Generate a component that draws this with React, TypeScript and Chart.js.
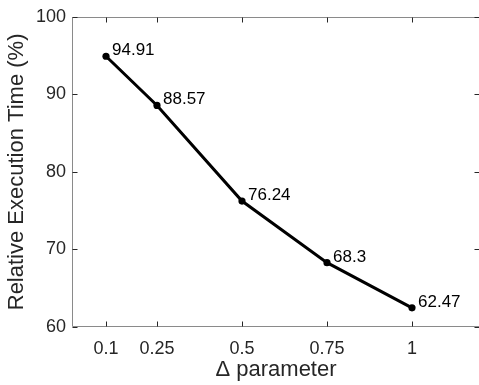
import React, { useEffect, useRef } from "react";
import { Chart, registerables } from "chart.js";

Chart.register(...registerables);

const deltaValues = [0.1, 0.25, 0.5, 0.75, 1];
const execTime = [94.91, 88.57, 76.24, 68.3, 62.47];
const xTickValues = [0.1, 0.25, 0.5, 0.75, 1];
const xTickLabels = ["0.1", "0.25", "0.5", "0.75", "1"];
const yTickValues = [60, 70, 80, 90, 100];
const yTickLabels = ["60", "70", "80", "90", "100"];
const xLabel = "\u0394 parameter";
const yLabel = "Relative Execution Time (%)";

const FONT = "'Liberation Sans', Arial, Helvetica, sans-serif";

const framePlugin = {
  id: "frame",
  beforeDatasetsDraw(chart: any) {
    const { ctx, chartArea } = chart;
    const { left, right, top, bottom } = chartArea;
    const xs = chart.scales.x;
    const ys = chart.scales.y;
    const L = Math.round(left) + 0.5;
    const R = Math.round(right) - 0.5;
    const T = Math.round(top) + 0.5;
    const B = Math.round(bottom) - 0.5;
    ctx.save();
    ctx.lineWidth = 1;
    ctx.strokeStyle = "#8a8a8a";
    ctx.beginPath();
    ctx.rect(L, T, R - L, B - T);
    ctx.stroke();
    ctx.strokeStyle = "#262626";
    const tl = 5;
    ctx.beginPath();
    xTickValues.forEach((v) => {
      const px = Math.round(xs.getPixelForValue(v)) + 0.5;
      ctx.moveTo(px, B);
      ctx.lineTo(px, B - tl);
      ctx.moveTo(px, T);
      ctx.lineTo(px, T + tl);
    });
    yTickValues.forEach((v) => {
      const py = Math.round(ys.getPixelForValue(v)) + 0.5;
      ctx.moveTo(L, py);
      ctx.lineTo(L + tl, py);
      ctx.moveTo(R, py);
      ctx.lineTo(R - tl, py);
    });
    ctx.stroke();
    ctx.restore();
  },
};

const labelPlugin = {
  id: "pointLabels",
  afterDatasetsDraw(chart: any) {
    const { ctx } = chart;
    const meta = chart.getDatasetMeta(0);
    ctx.save();
    ctx.font = `17px ${FONT}`;
    ctx.fillStyle = "#000";
    ctx.textAlign = "left";
    ctx.textBaseline = "alphabetic";
    meta.data.forEach((el: any, i: number) => {
      ctx.fillText(String(execTime[i]), el.x + 6, el.y - 1);
    });
    ctx.restore();
  },
};

export default function App() {
  const ref = useRef<HTMLCanvasElement | null>(null);
  useEffect(() => {
    if (!ref.current) return;
    const chart = new Chart(ref.current, {
      type: "line",
      data: {
        datasets: [
          {
            data: deltaValues.map((x, i) => ({ x, y: execTime[i] })),
            borderColor: "#000",
            backgroundColor: "#000",
            borderWidth: 3,
            pointRadius: 3.6,
            pointBorderWidth: 0,
            pointBackgroundColor: "#000",
            tension: 0,
          },
        ],
      },
      options: {
        animation: false,
        responsive: false,
        maintainAspectRatio: false,
        events: [],
        layout: { padding: { top: 15, right: 4, left: 0, bottom: 0 } },
        plugins: {
          legend: { display: false },
          tooltip: { enabled: false },
        },
        scales: {
          x: {
            type: "linear",
            min: 0,
            max: 1.2,
            grid: { display: false, drawTicks: false },
            border: { display: false },
            afterBuildTicks: (scale: any) => {
              scale.ticks = xTickValues.map((v) => ({ value: v }));
            },
            afterFit: (scale: any) => {
              scale.height = 58;
            },
            ticks: {
              autoSkip: false,
              maxRotation: 0,
              minRotation: 0,
              padding: 11,
              color: "#262626",
              font: { family: FONT, size: 18 },
              callback: (_v: any, i: number) => xTickLabels[i],
            },
            title: {
              display: true,
              text: xLabel,
              color: "#262626",
              font: { family: FONT, size: 22 },
              padding: { top: 0, bottom: 2 },
            },
          },
          y: {
            type: "linear",
            min: 60,
            max: 100,
            grid: { display: false, drawTicks: false },
            border: { display: false },
            afterBuildTicks: (scale: any) => {
              scale.ticks = yTickValues.map((v) => ({ value: v }));
            },
            afterFit: (scale: any) => {
              scale.width = 72;
            },
            ticks: {
              padding: 6,
              color: "#262626",
              font: { family: FONT, size: 18 },
              callback: (_v: any, i: number) => yTickLabels[i],
            },
            title: {
              display: true,
              text: yLabel,
              color: "#262626",
              font: { family: FONT, size: 22 },
              padding: { top: 4, bottom: 0 },
            },
          },
        },
      },
      plugins: [framePlugin, labelPlugin],
    });
    return () => chart.destroy();
  }, []);
  return (
    <div
      style={{
        position: "fixed",
        left: 0,
        top: 0,
        width: 479,
        height: 385,
        overflow: "hidden",
        background: "#fff",
      }}
    >
      <canvas ref={ref} width={484} height={385} style={{ width: 484, height: 385, display: "block" }} />
    </div>
  );
}
